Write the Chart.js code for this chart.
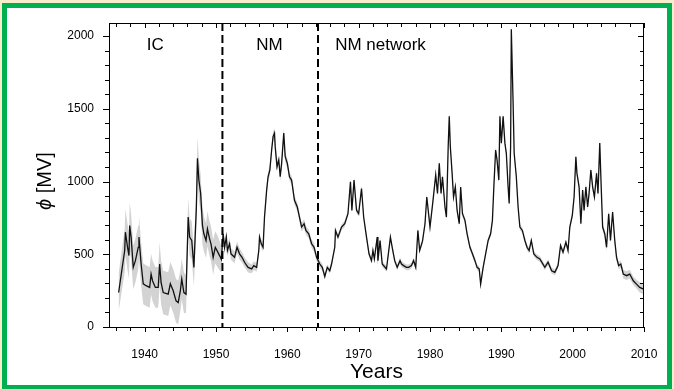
<!DOCTYPE html>
<html>
<head>
<meta charset="utf-8">
<script src="https://cdn.jsdelivr.net/npm/chart.js@4.4.1/dist/chart.umd.min.js"></script>
<style>
  html, body { margin: 0; padding: 0; overflow: hidden; background: #f7edcc; }
  #frame {
    position: absolute; left: 2px; top: 3px; width: 660px; height: 377px;
    border: 5px solid #00b050; background: #fff;
  }
  #c { position: absolute; left: 0; top: 0; }
</style>
</head>
<body>
<div id="frame"></div>
<canvas id="c" width="674" height="389"></canvas>
<script>
// modulation potential phi [MV]
const years = [
  1936.35, 1937.2, 1937.3, 1937.6, 1937.8, 1937.9, 1938.1, 1938.4, 1938.7, 1939.1, 1939.2, 1939.5, 1939.8,
  1940.2, 1940.7, 1940.9, 1941.1, 1941.5, 1941.9, 1942.1, 1942.3, 1942.6, 1943.3, 1943.6, 1944.0, 1944.4, 1944.7, 1945.0, 1945.2, 1945.5, 1945.8,
  1946.1, 1946.3, 1946.6, 1946.9, 1947.25, 1947.4, 1947.6, 1947.85, 1948.1, 1948.3, 1948.6, 1948.8, 1949.1, 1949.3, 1949.6, 1949.9, 1950.2, 1950.5, 1950.75,
  1951.0, 1951.2, 1951.45, 1951.6, 1951.9, 1952.1, 1952.6, 1952.95, 1953.3, 1953.65, 1954.0, 1954.5, 1955.0, 1955.3, 1955.7, 1956.0, 1956.1, 1956.35, 1956.6,
  1956.8, 1957.1, 1957.3, 1957.55, 1957.8, 1958.0, 1958.2, 1958.3, 1958.55, 1958.8, 1959.0, 1959.2, 1959.5, 1959.7, 1960.0,
  1960.3, 1960.6, 1961.0, 1961.4, 1961.7, 1962.0, 1962.35, 1962.6, 1963.0, 1963.4, 1963.75, 1964.1, 1964.55, 1964.9, 1965.25, 1965.6, 1965.95,
  1966.2, 1966.65, 1966.75, 1967.1, 1967.6, 1968.05, 1968.5, 1968.85, 1969.05, 1969.35, 1969.7, 1970.0, 1970.4, 1970.7, 1971.1, 1971.45, 1971.8,
  1972.0, 1972.2, 1972.6, 1972.7, 1973.0, 1973.3, 1973.9, 1974.45, 1974.7, 1975.05, 1975.4, 1975.8, 1976.0, 1976.3, 1976.7, 1977.0, 1977.4, 1977.7, 1978.0,
  1978.3, 1978.55, 1978.95, 1979.3, 1979.55, 1980.0, 1980.4, 1980.8, 1981.05, 1981.3, 1981.55, 1981.75, 1982.1, 1982.3, 1982.55, 1982.7, 1982.85, 1983.1, 1983.3, 1983.55, 1983.8,
  1984.1, 1984.3, 1984.55, 1984.9, 1985.2, 1985.6, 1985.95, 1986.3, 1986.6, 1986.9, 1987.1, 1987.45, 1987.8, 1988.15, 1988.5, 1988.75, 1988.95, 1989.2, 1989.4, 1989.65,
  1989.8, 1990.0, 1990.25, 1990.5, 1990.7, 1990.95, 1991.1, 1991.3, 1991.4, 1991.65, 1991.8, 1992.1, 1992.35, 1992.6, 1992.95, 1993.3, 1993.6, 1993.9, 1994.2, 1994.55,
  1995.0, 1995.4, 1996.1, 1996.55, 1997.05, 1997.5, 1997.95, 1998.3, 1998.65, 1999.05, 1999.35, 1999.6, 1999.95, 2000.2, 2000.45, 2000.6, 2000.9,
  2001.15, 2001.4, 2001.6, 2001.85, 2002.1, 2002.3, 2002.55, 2002.8, 2003.05, 2003.35, 2003.55, 2003.8, 2004.0, 2004.2, 2004.5, 2004.75, 2005.05, 2005.3, 2005.6, 2005.9,
  2006.15, 2006.45, 2006.75, 2007.1, 2007.55, 2008.0, 2008.5, 2008.95, 2009.4, 2009.95
];
const phi = [
  237, 526, 652, 548, 491, 698, 618, 410, 456, 548, 618, 435, 297,
  284, 272, 364, 318, 272, 272, 433, 306, 237, 226, 297, 249, 180, 168, 249, 330, 237, 226,
  756, 618, 595, 410, 825, 1160, 1010, 918, 698, 641, 595, 675, 606, 572, 479, 548, 520, 491, 465,
  641, 548, 618, 526, 572, 503, 479, 548, 503, 479, 445, 410, 399, 422, 410, 526, 618, 572, 548,
  756, 941, 1033, 1079, 1217, 1309, 1333, 1240, 1102, 1148, 1033, 1125, 1333, 1171, 1125,
  1033, 1010, 871, 825, 756, 687, 710, 664, 641, 572, 548, 479, 433, 410, 347, 410, 387,
  433, 548, 664, 618, 687, 710, 779, 998, 802, 1010, 802, 779, 952, 756, 618, 503, 456,
  526, 468, 618, 456, 595, 433, 399, 618, 548, 456, 410, 456, 433, 422, 410, 410, 422, 456, 410,
  664, 526, 590, 710, 894, 687, 860, 1045, 918, 1125, 918, 1033, 825, 756, 1240, 1448, 1240, 1056, 894, 963, 802,
  710, 963, 779, 733, 641, 548, 503, 456, 410, 399, 295, 410, 503, 595, 641, 733, 963, 1217, 1148, 1010,
  1448, 1264, 1448, 1264, 1194, 963, 849, 1240, 2047, 1540, 1194, 1033, 825, 687, 664, 595, 548, 526, 595, 503,
  479, 468, 410, 445, 387, 376, 422, 560, 514, 583, 526, 687, 768, 894, 1171, 1056, 963,
  710, 941, 802, 963, 825, 918, 1079, 963, 894, 1056, 918, 1264, 963, 687, 641, 548, 779, 595, 791, 595,
  479, 422, 433, 364, 353, 364, 318, 295, 272, 261
];
// half width of the grey uncertainty band [MV]
const sigma = [
  130, 150, 160, 160, 160, 160, 160, 150, 150, 150, 150, 150, 140,
  140, 140, 140, 140, 140, 140, 150, 150, 150, 150, 150, 150, 150, 150, 140, 140, 140, 130,
  130, 130, 130, 130, 140, 150, 140, 130, 130, 120, 120, 120, 120, 120, 120, 110, 110, 100, 90,
  60, 50, 45, 40, 40, 40, 40, 40, 40, 35, 35, 35, 30, 30, 30, 30, 30, 30, 30,
  35, 35, 35, 35, 35, 35, 35, 35, 35, 35, 35, 35, 35, 35, 35,
  30, 30, 30, 30, 30, 30, 30, 30, 30, 30, 30, 25, 25, 25, 20, 20, 20,
  20, 20, 20, 20, 20, 20, 20, 20, 20, 20, 20, 20, 20, 20, 20, 20, 20,
  20, 20, 20, 20, 20, 20, 20, 20, 20, 20, 20, 20, 20, 20, 20, 20, 20, 20, 20,
  20, 20, 20, 20, 20, 20, 20, 20, 20, 20, 20, 20, 20, 20, 20, 20, 20, 20, 20, 20, 20,
  20, 20, 20, 20, 20, 20, 20, 20, 20, 20, 20, 20, 20, 20, 20, 20, 20, 20, 20, 20,
  20, 20, 20, 20, 20, 20, 20, 20, 30, 25, 20, 20, 20, 20, 20, 20, 20, 20, 20, 20,
  20, 20, 20, 20, 20, 20, 20, 20, 20, 20, 20, 20, 20, 20, 20, 20, 20,
  25, 25, 25, 25, 25, 25, 25, 25, 25, 25, 25, 25, 25, 25, 25, 25, 25, 25, 25, 25,
  25, 25, 25, 30, 30, 30, 30, 30, 35, 35
];

const xTicks = [1940, 1950, 1960, 1970, 1980, 1990, 2000, 2010];
const yTicks = [0, 500, 1000, 1500, 2000];
const eraBounds = [1950.9, 1964.3];
const eraNames = ['IC', 'NM', 'NM network'];

const FONT = "'Liberation Sans', Arial, Helvetica, sans-serif";

const frameBits = {
  id: 'frameBits',
  afterDraw(chart) {
    const ctx = chart.ctx;
    const a = chart.chartArea;
    const xs = chart.scales.x, ys = chart.scales.y;
    ctx.save();
    ctx.strokeStyle = '#000';
    ctx.lineWidth = 1;
    ctx.strokeRect(a.left + 0.5, a.top + 0.5, a.right - a.left - 1, a.bottom - a.top);

    // minor/major ticks on all four sides
    ctx.beginPath();
    for (let yr = 1936; yr <= 2010; yr += 2) {
      const px = Math.round(xs.getPixelForValue(yr)) + 0.5;
      const len = yr % 10 === 0 ? 5 : 4;
      ctx.moveTo(px, a.bottom); ctx.lineTo(px, a.bottom + len);
      ctx.moveTo(px, a.top); ctx.lineTo(px, a.top + len);
    }
    for (let v = 0; v <= 2000; v += 100) {
      const py = Math.round(ys.getPixelForValue(v)) + 0.5;
      const len = v % 500 === 0 ? 6 : 4;
      ctx.moveTo(a.left, py); ctx.lineTo(a.left - len, py);
      ctx.moveTo(a.right, py); ctx.lineTo(a.right - len, py);
    }
    ctx.stroke();

    // dashed separators between the data sources
    ctx.setLineDash([8, 4]);
    ctx.lineWidth = 2;
    ctx.beginPath();
    eraBounds.forEach(b => {
      const px = xs.getPixelForValue(b);
      ctx.moveTo(px, a.top); ctx.lineTo(px, a.bottom);
    });
    ctx.stroke();
    ctx.setLineDash([]);

    ctx.fillStyle = '#000';
    ctx.font = '17px ' + FONT;
    ctx.textBaseline = 'middle';
    const ty = ys.getPixelForValue(1935);
    ctx.textAlign = 'center';
    ctx.fillText(eraNames[0], xs.getPixelForValue(1941.5), ty);
    ctx.fillText(eraNames[1], xs.getPixelForValue(1957.5), ty);
    ctx.textAlign = 'left';
    ctx.fillText(eraNames[2], xs.getPixelForValue(1966.7), ty);

    // y axis title with italic phi
    ctx.translate(45, 181);
    ctx.rotate(-Math.PI / 2);
    const f1 = 'italic 20px ' + FONT, f2 = '20px ' + FONT;
    ctx.font = f1; const w1 = ctx.measureText('\u03D5').width;
    ctx.font = f2; const w2 = ctx.measureText(' [MV]').width;
    ctx.textAlign = 'left';
    ctx.font = f1; ctx.fillText('\u03D5', -(w1 + w2) / 2, 0);
    ctx.font = f2; ctx.fillText(' [MV]', -(w1 + w2) / 2 + w1, 0);
    ctx.restore();
  }
};

new Chart(document.getElementById('c'), {
  type: 'line',
  data: {
    datasets: [
      {
        data: years.map((x, i) => ({ x: x, y: phi[i] })),
        borderColor: '#111', borderWidth: 1.3, pointRadius: 0, tension: 0, fill: false
      },
      {
        data: years.map((x, i) => ({ x: x, y: phi[i] + sigma[i] })),
        borderWidth: 0, borderColor: 'rgba(0,0,0,0)', backgroundColor: '#d3d3d3',
        pointRadius: 0, tension: 0, fill: '+1'
      },
      {
        data: years.map((x, i) => ({ x: x, y: phi[i] - sigma[i] })),
        borderWidth: 0, borderColor: 'rgba(0,0,0,0)', pointRadius: 0, tension: 0, fill: false
      }
    ]
  },
  options: {
    responsive: false,
    animation: false,
    layout: { padding: { top: 23, right: 30, left: 0, bottom: 0 } },
    plugins: { legend: { display: false }, tooltip: { enabled: false } },
    scales: {
      x: {
        type: 'linear', min: 1935, max: 2010,
        afterBuildTicks: s => { s.ticks = xTicks.map(v => ({ value: v })); },
        afterFit: s => { s.height = 62; },
        grid: { display: false },
        border: { display: false },
        ticks: { color: '#000', font: { family: FONT, size: 12 }, padding: 12, maxRotation: 0, autoSkip: false,
                 callback: v => String(v) },
        title: { display: true, text: 'Years', color: '#000', font: { family: FONT, size: 21 }, padding: { top: 4 } }
      },
      y: {
        min: 0, max: 2090,
        afterBuildTicks: s => { s.ticks = yTicks.map(v => ({ value: v })); },
        afterFit: s => { s.width = 109; },
        grid: { display: false },
        border: { display: false },
        ticks: { color: '#000', font: { family: FONT, size: 12 }, padding: 7, callback: v => String(v) }
      }
    }
  },
  plugins: [frameBits]
});
</script>
</body>
</html>
